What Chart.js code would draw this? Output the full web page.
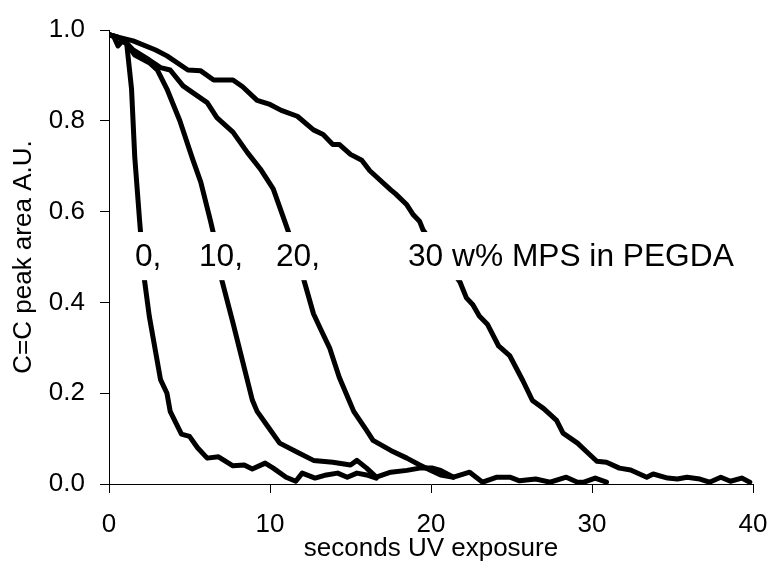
<!DOCTYPE html>
<html>
<head>
<meta charset="utf-8">
<script src="https://cdn.jsdelivr.net/npm/chart.js@4/dist/chart.umd.min.js"></script>
<style>
html,body{margin:0;padding:0;background:#fff;}
#wrap{width:771px;height:570px;position:relative;}
</style>
</head>
<body>
<div id="wrap"><canvas id="c" width="771" height="570"></canvas></div>
<script>
// 0 w% MPS
const t0 = [0, 0.3, 0.56, 0.8, 1.1, 1.4, 1.6, 1.9, 2.2, 2.5, 2.9, 3.2, 3.6, 3.8, 4.5, 5.0, 5.5, 6.1, 6.8, 7.7, 8.4, 8.9, 9.7, 10.2, 11.0, 11.6, 12.0, 12.8, 13.5, 14.2, 14.8, 15.4, 16.0, 16.6];
const v0 = [0.99, 0.985, 0.965, 0.975, 0.97, 0.87, 0.72, 0.58, 0.45, 0.37, 0.29, 0.23, 0.2, 0.16, 0.11, 0.105, 0.08, 0.057, 0.06, 0.04, 0.042, 0.033, 0.046, 0.035, 0.015, 0.006, 0.024, 0.013, 0.02, 0.024, 0.015, 0.024, 0.02, 0.013];
// 10 w% MPS
const t1 = [0, 0.5, 1.0, 1.6, 2.5, 3.0, 3.6, 4.4, 5.2, 5.7, 6.3, 6.5, 7.0, 7.7, 8.3, 8.9, 9.2, 9.8, 10.6, 11.7, 12.7, 13.9, 15.0, 15.4, 16.0, 16.6, 17.5, 18.5, 19.3, 20.1, 20.6, 21.4];
const v1 = [0.99, 0.985, 0.975, 0.945, 0.928, 0.912, 0.87, 0.8, 0.715, 0.665, 0.58, 0.55, 0.45, 0.355, 0.27, 0.185, 0.16, 0.13, 0.09, 0.07, 0.052, 0.048, 0.042, 0.052, 0.035, 0.015, 0.026, 0.03, 0.035, 0.035, 0.03, 0.015];
// 20 w% MPS
const t2 = [0, 0.5, 1.0, 1.5, 2.5, 3.2, 3.8, 4.6, 5.2, 6.1, 6.7, 7.7, 8.6, 9.4, 10.2, 10.9, 11.2, 12.1, 12.7, 13.2, 13.7, 14.3, 14.9, 15.2, 16.0, 16.4, 17.5, 18.5, 19.3, 20.0, 20.6, 21.4, 22.4, 23.2, 24.1, 24.9, 25.5, 26.5, 27.4, 28.4, 29.1, 29.5, 30.2, 30.9];
const v2 = [0.99, 0.985, 0.975, 0.956, 0.934, 0.917, 0.912, 0.877, 0.862, 0.84, 0.807, 0.775, 0.73, 0.694, 0.65, 0.58, 0.55, 0.45, 0.375, 0.337, 0.3, 0.235, 0.185, 0.16, 0.118, 0.096, 0.074, 0.057, 0.042, 0.03, 0.02, 0.015, 0.026, 0.004, 0.015, 0.015, 0.007, 0.011, 0.004, 0.015, 0.004, 0.004, 0.013, 0.004];
// 30 w% MPS
const t3 = [0, 0.5, 1.5, 2.9, 3.6, 4.9, 5.7, 6.5, 7.7, 8.3, 9.2, 10.0, 10.7, 11.7, 12.7, 13.3, 13.9, 14.3, 15.0, 15.7, 16.2, 17.5, 17.8, 18.5, 18.9, 19.3, 19.5, 21.8, 22.2, 22.6, 23.0, 23.5, 24.2, 24.9, 25.7, 26.3, 27.0, 27.8, 28.2, 29.1, 29.7, 30.3, 30.9, 31.7, 32.4, 33.4, 33.8, 34.7, 35.3, 35.9, 36.7, 37.3, 38.0, 38.6, 39.3, 39.8];
const v3 = [0.99, 0.985, 0.976, 0.956, 0.943, 0.912, 0.91, 0.89, 0.89, 0.875, 0.845, 0.836, 0.823, 0.81, 0.78, 0.77, 0.748, 0.748, 0.726, 0.713, 0.69, 0.648, 0.639, 0.615, 0.593, 0.578, 0.56, 0.445, 0.41, 0.395, 0.37, 0.352, 0.304, 0.282, 0.228, 0.184, 0.166, 0.14, 0.112, 0.09, 0.07, 0.05, 0.048, 0.035, 0.031, 0.015, 0.022, 0.013, 0.011, 0.015, 0.011, 0.004, 0.015, 0.006, 0.013, 0.004];

const xTicks = [0, 10, 20, 30, 40];
const yTicks = [0.0, 0.2, 0.4, 0.6, 0.8, 1.0];
const annoText = ['0,', '10,', '20,', '30 w% MPS in PEGDA'];
const annoX = [1.61, 5.59, 10.37, 18.57];
const annoBaseY = 0.48;
const annoBox = {x0: 1.2, x1: 39.2, y0: 0.449, y1: 0.555};

const FONT = "'Liberation Sans', Arial, Helvetica, sans-serif";

function pts(t, v) { return t.map((x, i) => ({x: x, y: v[i]})); }

const series = [pts(t0, v0), pts(t1, v1), pts(t2, v2), pts(t3, v3)];

const annoPlugin = {
  id: 'anno',
  afterDatasetsDraw(chart) {
    const ctx = chart.ctx;
    const xs = chart.scales.x, ys = chart.scales.y;
    ctx.save();
    ctx.fillStyle = '#fff';
    const bx0 = xs.getPixelForValue(annoBox.x0), bx1 = xs.getPixelForValue(annoBox.x1);
    const by0 = ys.getPixelForValue(annoBox.y1), by1 = ys.getPixelForValue(annoBox.y0);
    ctx.fillRect(bx0, by0, bx1 - bx0, by1 - by0);
    ctx.fillStyle = '#000';
    ctx.font = '31.7px ' + FONT;
    ctx.textBaseline = 'alphabetic';
    ctx.textAlign = 'left';
    annoText.forEach((s, i) => {
      ctx.fillText(s, xs.getPixelForValue(annoX[i]), ys.getPixelForValue(annoBaseY));
    });
    ctx.restore();
  }
};

new Chart(document.getElementById('c'), {
  type: 'line',
  data: {
    datasets: series.map(d => ({
      data: d,
      borderColor: '#000',
      borderWidth: 5,
      pointRadius: 0,
      fill: false,
      tension: 0,
      borderJoinStyle: 'round',
      borderCapStyle: 'round'
    }))
  },
  options: {
    responsive: false,
    animation: false,
    devicePixelRatio: 1,
    layout: {padding: {left: 0, right: 18, top: 30, bottom: 0}},
    plugins: {legend: {display: false}, tooltip: {enabled: false}},
    scales: {
      x: {
        type: 'linear',
        min: 0, max: 40,
        afterBuildTicks: s => { s.ticks = xTicks.map(v => ({value: v})); },
        afterFit: s => { s.height = 86; s.paddingLeft = 0; s.paddingRight = 0; },
        ticks: {color: '#000', font: {size: 26, family: FONT}, padding: 16, maxRotation: 0,
                callback: v => String(v)},
        grid: {display: true, drawOnChartArea: false, drawTicks: true, tickLength: 9, color: '#000', lineWidth: 1},
        border: {display: true, color: '#000', width: 1},
        title: {display: true, text: 'seconds UV exposure', color: '#000',
                font: {size: 26, family: FONT}, padding: {top: 0, bottom: 6}}
      },
      y: {
        type: 'linear',
        min: 0, max: 1,
        afterBuildTicks: s => { s.ticks = yTicks.map(v => ({value: v})); },
        afterFit: s => { s.width = 109; s.paddingTop = 0; s.paddingBottom = 0; },
        ticks: {color: '#000', font: {size: 26, family: FONT}, padding: 15,
                callback: v => Number(v).toFixed(1)},
        grid: {display: true, drawOnChartArea: false, drawTicks: true, tickLength: 9, color: '#000', lineWidth: 1},
        border: {display: true, color: '#000', width: 1},
        title: {display: true, text: 'C=C peak area A.U.', color: '#000',
                font: {size: 26, family: FONT}, padding: {top: 8, bottom: 0}}
      }
    }
  },
  plugins: [annoPlugin]
});
</script>
</body>
</html>
